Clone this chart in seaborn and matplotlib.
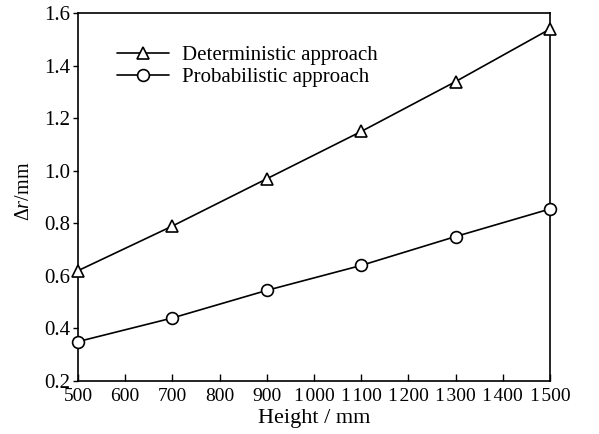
import matplotlib
matplotlib.use("Agg")
import matplotlib.pyplot as plt
import seaborn as sns
import pandas as pd

heights = [500, 700, 900, 1100, 1300, 1500]
deterministic = [0.62, 0.79, 0.97, 1.15, 1.34, 1.54]
probabilistic = [0.35, 0.44, 0.545, 0.64, 0.75, 0.855]
series_names = ["Deterministic approach", "Probabilistic approach"]
x_ticks = [500, 600, 700, 800, 900, 1000, 1100, 1200, 1300, 1400, 1500]
x_tick_labels = ["500", "600", "700", "800", "900", "1\u200a000", "1\u200a100",
                 "1\u200a200", "1\u200a300", "1\u200a400", "1\u200a500"]
y_ticks = [0.2, 0.4, 0.6, 0.8, 1.0, 1.2, 1.4, 1.6]

sns.set_theme(style="white")
plt.rcParams["font.family"] = ["Liberation Serif", "DejaVu Serif"]
plt.rcParams["mathtext.fontset"] = "custom"
plt.rcParams["mathtext.rm"] = "Liberation Serif"
plt.rcParams["mathtext.it"] = "Liberation Serif:italic"

df = pd.DataFrame({
    "Height": heights * 2,
    "value": deterministic + probabilistic,
    "series": [series_names[0]] * len(heights) + [series_names[1]] * len(heights),
})

fig = plt.figure(figsize=(5.99, 4.34), dpi=100)
ax = fig.add_axes([0.1302, 0.1221, 0.7880, 0.8473])

markers = {series_names[0]: "^", series_names[1]: "o"}
sizes = {series_names[0]: 9, series_names[1]: 8.5}
for name in series_names:
    sub = df[df["series"] == name]
    sns.lineplot(data=sub, x="Height", y="value", ax=ax, color="black",
                 marker=markers[name], markersize=sizes[name],
                 markerfacecolor="white", markeredgecolor="black",
                 markeredgewidth=1.2, linewidth=1.2, label=name,
                 clip_on=False, zorder=3)

ax.set_xlim(500, 1500)
ax.set_ylim(0.2, 1.6)
ax.set_xticks(x_ticks)
ax.set_xticklabels(x_tick_labels)
ax.set_yticks(y_ticks)
ax.set_yticklabels([f"{v:.1f}" for v in y_ticks])

for s in ax.spines.values():
    s.set_color("black")
    s.set_linewidth(1.2)

ax.tick_params(axis="x", direction="in", length=5, width=1.0, pad=5,
               labelsize=14, colors="black", bottom=True, top=False)
ax.tick_params(axis="y", direction="out", length=3.5, width=1.0, pad=2,
               labelsize=15, colors="black", left=True, right=False)

ax.set_xlabel("Height / mm", fontsize=16, color="black", labelpad=3)
ax.set_ylabel(r"$\Delta r$/mm", fontsize=14.5, color="black")
ax.yaxis.set_label_coords(-0.094, 0.517)

leg = ax.legend(loc="upper left", bbox_to_anchor=(0.083, 0.912), frameon=False,
                fontsize=15, handlelength=2.5, handletextpad=0.6,
                labelspacing=0.1, borderpad=0, borderaxespad=0)
for t in leg.get_texts():
    t.set_color("black")

fig.savefig("out.png", dpi=100)
